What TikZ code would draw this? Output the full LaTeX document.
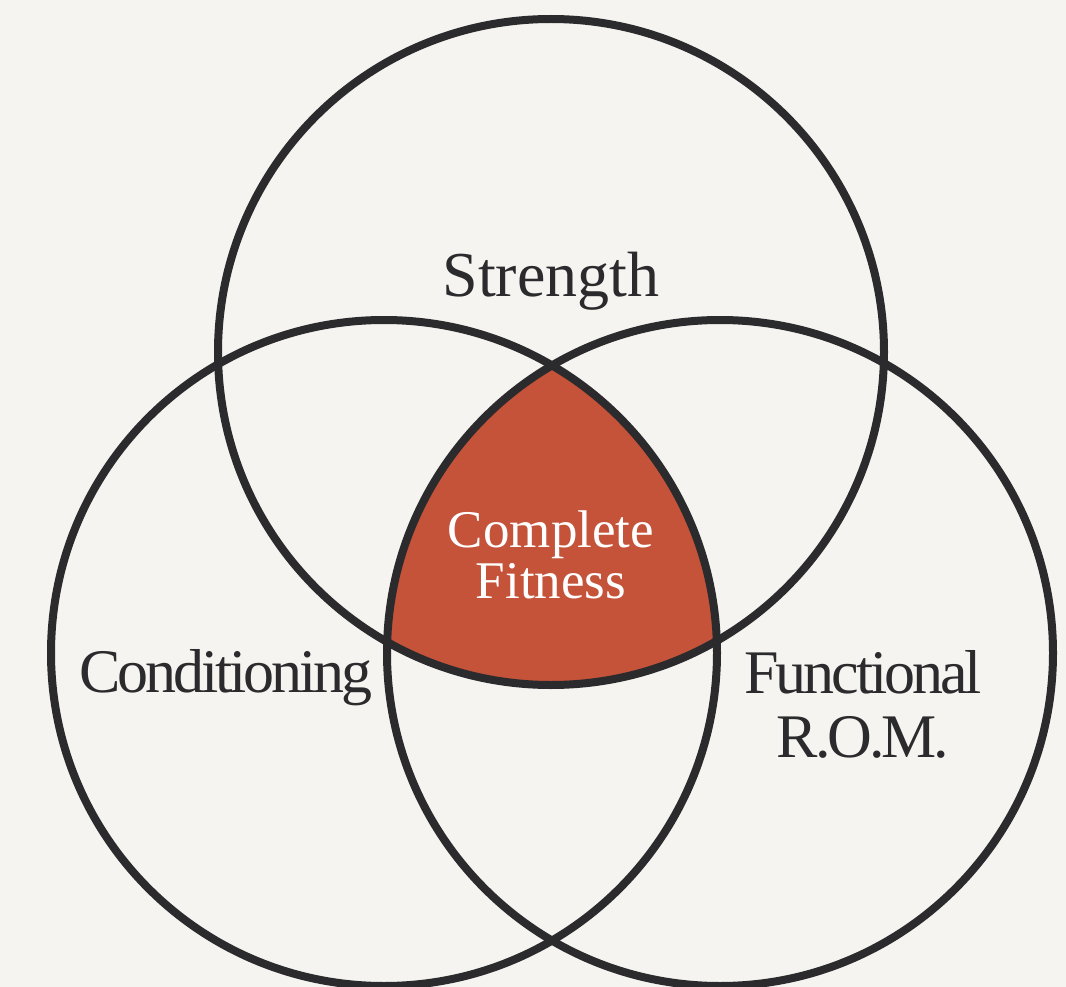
\documentclass[tikz,border=0pt]{standalone}
\usepackage{fontspec}
\setmainfont{Liberation Serif}
\newfontfamily\tightserif[LetterSpace=-5]{Liberation Serif}
\definecolor{paper}{HTML}{F5F4F0}
\definecolor{ink}{HTML}{2B2B2D}
\definecolor{brick}{HTML}{C4533A}
\begin{document}
\begin{tikzpicture}[x=1pt,y=-1pt]
	\tikzstyle{ring}=[draw=ink,line width=8pt];
	\tikzstyle{setlabel}=[text=ink,anchor=base,inner sep=0pt,align=center];

	\clip (0,0) rectangle (1066,987);
	\fill[paper] (0,0) rectangle (1066,987);

	\coordinate (cs) at (551, 352);
	\coordinate (cc) at (384, 653);
	\coordinate (cf) at (720, 653);

	\begin{scope}
		\clip (cc) circle (333);
		\clip (cf) circle (333);
		\fill[brick] (cs) circle (333);
	\end{scope}

	\draw[ring] (cs) circle (333);
	\draw[ring] (cc) circle (333);
	\draw[ring] (cf) circle (333);

	\node[setlabel,font=\fontsize{64}{64}\selectfont] at (551, 297) (strength) {Strength};
	\node[setlabel,font=\tightserif\fontsize{62}{64}\selectfont] at (226, 692) (conditioning) {Conditioning};
	\node[setlabel,font=\tightserif\fontsize{62}{64}\selectfont] at (863, 757) (functional) {Functional\\R.O.M.};
	\node[setlabel,text=white,font=\fontsize{53}{51}\selectfont] at (551, 598) (complete) {Complete\\Fitness};
\end{tikzpicture}
\end{document}
